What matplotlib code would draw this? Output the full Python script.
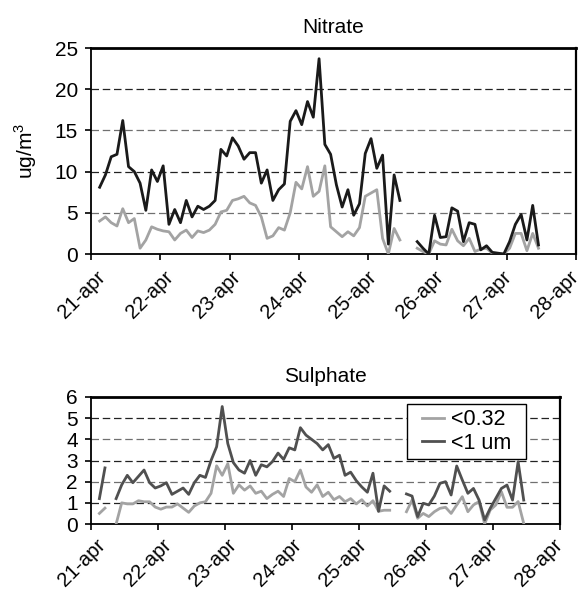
import numpy as np
import pandas as pd
import matplotlib
matplotlib.use("Agg")
import matplotlib.pyplot as plt
from matplotlib.patches import Rectangle
from matplotlib.transforms import ScaledTranslation, blended_transform_factory

plt.rcParams.update({
    "font.family": ["Liberation Sans", "DejaVu Sans"],
    "font.size": 15,
    "mathtext.fontset": "custom",
    "mathtext.rm": "Liberation Sans",
})

nan = np.nan

# 2-hourly samples, 21-apr 03:00 onwards
TIMES = pd.date_range("2007-04-21 03:00", periods=77, freq="2h")
DAYS = pd.date_range("2007-04-21", "2007-04-28", freq="D")
DAY_LABELS = ["21-apr", "22-apr", "23-apr", "24-apr", "25-apr", "26-apr", "27-apr", "28-apr"]

# Nitrate (ug/m3)
NO3_PM1 = [
    8.1, 9.6, 11.8, 12.1, 16.2, 10.6, 10.0, 8.6, 5.3, 10.2,
    8.8, 10.7, 3.6, 5.4, 3.8, 6.5, 4.5, 5.8, 5.4, 5.8,
    6.5, 12.7, 11.9, 14.1, 13.1, 11.5, 12.3, 12.3, 8.6, 10.2,
    6.5, 7.8, 8.5, 16.1, 17.4, 15.7, 18.5, 16.6, 23.7, 13.3,
    12.1, 8.4, 5.7, 7.8, 4.7, 6.1, 12.2, 14.0, 10.4, 12.0,
    1.2, 9.6, 6.5, nan, nan,
    1.5, 0.7, 0.0, 4.7, 2.0, 2.1, 5.6, 5.2, 1.5, 3.8,
    3.6, 0.5, 1.0, 0.2, 0.1, 0.0, 1.5, 3.6, 4.8, 1.7,
    5.9, 1.1,
]
NO3_PM032 = [
    4.0, 4.5, 3.8, 3.4, 5.5, 3.8, 4.3, 0.7, 1.7, 3.3,
    3.0, 2.8, 2.7, 1.7, 2.5, 2.9, 2.0, 2.8, 2.6, 2.9,
    3.6, 5.1, 5.3, 6.5, 6.7, 7.0, 6.2, 5.9, 4.5, 1.9,
    2.2, 3.2, 2.9, 5.0, 8.7, 7.9, 10.6, 7.0, 7.6, 10.7,
    3.3, 2.7, 2.1, 2.7, 2.2, 3.2, 7.0, 7.4, 7.8, 1.9,
    0.0, 3.1, 1.7, nan, nan,
    0.7, 0.3, 0.0, 1.6, 1.2, 1.1, 3.0, 1.6, 1.0, 1.9,
    0.3, 0.6, 0.7, 0.1, 0.0, 0.0, 0.7, 2.5, 2.5, 0.4,
    2.5, 0.7,
]

# Sulphate (ug/m3)
SO4_PM1 = [
    1.2, 2.65, nan, 1.2, 1.85, 2.3, 1.95, 2.25, 2.55, 1.95,
    1.7, 1.8, 1.95, 1.4, 1.55, 1.7, 1.4, 1.95, 2.3, 2.2,
    3.0, 3.65, 5.55, 3.8, 2.9, 2.55, 2.4, 3.0, 2.3, 2.8,
    2.7, 2.95, 3.35, 3.05, 3.6, 3.5, 4.55, 4.2, 4.0, 3.8,
    3.5, 3.75, 3.1, 3.25, 2.3, 2.45, 2.05, 1.75, 1.5, 2.4,
    0.6, 1.8, 1.55, nan, nan,
    1.42, 1.32, 0.35, 0.98, 0.9, 1.32, 1.92, 2.0, 1.37, 2.74,
    2.08, 1.45, 1.68, 1.13, 0.19, 0.74, 1.21, 1.68, 1.84, 1.13,
    2.94, 1.13,
]
SO4_PM032 = [
    0.5, 0.75, nan, 0.0, 1.0, 0.95, 0.95, 1.1, 1.05, 1.05,
    0.8, 0.7, 0.8, 0.8, 0.95, 0.75, 0.55, 0.85, 1.0, 1.05,
    1.45, 2.75, 2.3, 2.85, 1.45, 1.85, 1.6, 1.8, 1.45, 1.55,
    1.2, 1.4, 1.55, 1.3, 2.15, 2.0, 2.55, 1.75, 1.5, 1.85,
    1.3, 1.5, 1.15, 1.3, 1.05, 1.2, 0.95, 1.15, 0.85, 1.1,
    0.6, 0.65, 0.65, nan, nan,
    0.58, 1.13, 0.27, 0.5, 0.35, 0.58, 0.74, 0.79, 0.5, 0.9,
    1.29, 0.58, 0.9, 1.06, 0.0, 0.66, 0.9, 1.53, 0.79, 0.79,
    1.06, 0.03,
]

W, H = 578, 596
fig = plt.figure(figsize=(W / 100, H / 100), dpi=100)
ax1 = fig.add_axes([91 / W, 1 - 254 / H, 485 / W, 206 / H])
ax2 = fig.add_axes([91 / W, 1 - 524 / H, 469 / W, 127 / H])


def style_axis(ax, yticks, title, drop_px):
    ax.set_xlim(DAYS[0], DAYS[-1])
    ax.set_ylim(yticks[0], yticks[-1])
    ax.set_yticks(yticks)
    ax.set_xticks(DAYS)
    ax.set_xticklabels([])
    # rotated date labels, drifting slightly left relative to ticks along the axis
    base = blended_transform_factory(ax.transData, ax.transAxes)
    n = len(DAY_LABELS)
    for i, (d, lab) in enumerate(zip(DAYS, DAY_LABELS)):
        dx = (5 - 12 * i / (n - 1)) / 100
        tr = base + ScaledTranslation(dx, -drop_px / 100, fig.dpi_scale_trans)
        ax.text(d, 0, lab, transform=tr, rotation=45, ha="right", va="top",
                rotation_mode="anchor", fontsize=14.5, clip_on=False)
    ax.tick_params(axis="x", direction="out", length=4, width=1.2)
    ax.tick_params(axis="y", direction="out", length=4.5, width=1.2, pad=5)
    # alternating dash colours like the original gridlines
    for i, v in enumerate(yticks[1:-1]):
        col = "#222222" if (len(yticks) - 2 - i) % 2 else "#707070"
        ax.axhline(v, color=col, lw=0.9, ls=(0, (6, 3)), zorder=1)
    ax.spines["top"].set_linewidth(2.0)
    ax.spines["right"].set_linewidth(1.6)
    ax.spines["left"].set_linewidth(1.3)
    ax.spines["bottom"].set_linewidth(1.3)
    for s in ax.spines.values():
        s.set_color("black")
    ax.set_title(title, fontsize=15, pad=11)


ax1.plot(TIMES, NO3_PM032, color="#a3a3a3", lw=2.0, zorder=3)
ax1.plot(TIMES, NO3_PM1, color="#1a1a1a", lw=2.0, zorder=4)
style_axis(ax1, [0, 5, 10, 15, 20, 25], "Nitrate", 13)
fig.text(26 / W, 1 - 151 / H, "ug/m$^3$", rotation=90, ha="center", va="center",
         fontsize=15)

ax2.plot(TIMES, SO4_PM032, color="#a3a3a3", lw=2.0, zorder=3, label="<0.32")
ax2.plot(TIMES, SO4_PM1, color="#505050", lw=2.0, zorder=4, label="<1 um")
style_axis(ax2, [0, 1, 2, 3, 4, 5, 6], "Sulphate", 11)

# legend box drawn separately so its padding matches the original
bx0, bx1, by0, by1 = 0.674, 0.9275, 0.512, 0.945
ax2.add_patch(Rectangle((bx0, by0), bx1 - bx0, by1 - by0, transform=ax2.transAxes,
                        facecolor="white", edgecolor="black", lw=1.0, zorder=9))
leg = ax2.legend(loc="center", bbox_to_anchor=((bx0 + bx1) / 2, (by0 + by1) / 2),
                 frameon=False, fontsize=15.5, handlelength=1.05,
                 handletextpad=0.3, borderpad=0.0, labelspacing=0.1,
                 borderaxespad=0)
leg.set_zorder(10)

fig.savefig("out.png", dpi=100)
